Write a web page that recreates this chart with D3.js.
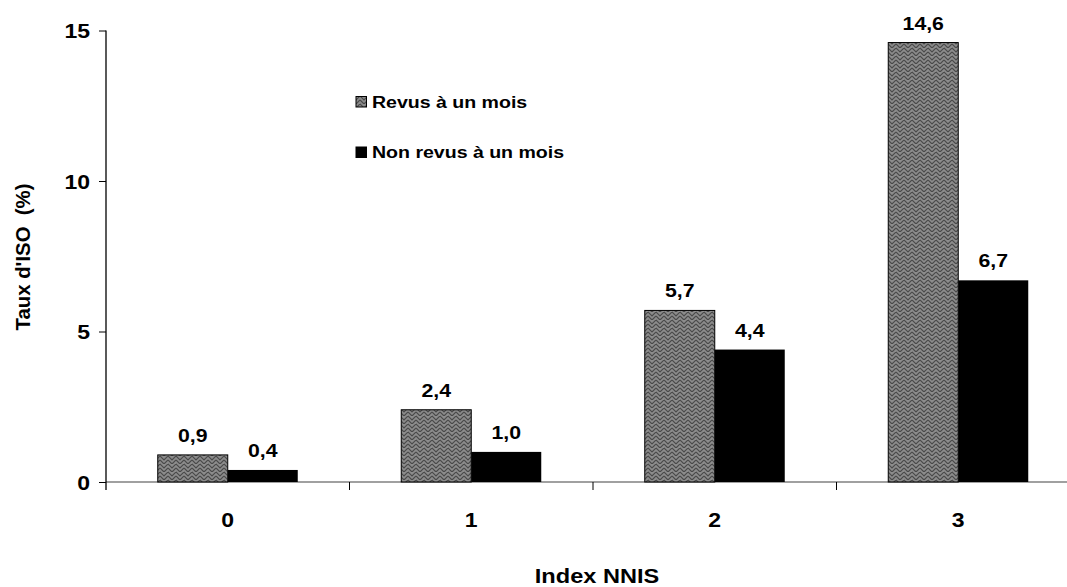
<!DOCTYPE html>
<html><head><meta charset="utf-8">
<script src="https://cdn.jsdelivr.net/npm/d3@7"></script>
<style>body{margin:0;background:#fff}svg{display:block}text{font-family:Arial,"Liberation Sans",sans-serif;font-weight:bold}</style>
</head><body><svg id="c" width="1067" height="587"></svg>
<script>
const categories = ["0","1","2","3"];
const seriesNames = ["Revus à un mois","Non revus à un mois"];
const revus = [0.9, 2.4, 5.7, 14.6];
const nonRevus = [0.4, 1.0, 4.4, 6.7];
const labelsRevus = ["0,9","2,4","5,7","14,6"];
const labelsNon = ["0,4","1,0","4,4","6,7"];
const yTicks = [0,5,10,15];

const SX = 1.15; // horizontal stretch of the reference text
const svg = d3.select("#c");
function txt(parent, x, y, s, size, anchor) {
  return parent.append("g").attr("transform",`translate(${x},${y}) scale(${SX},1)`)
    .append("text").attr("text-anchor",anchor||"middle").attr("font-size",size)
    .attr("fill","#000").attr("font-family","Arial, 'Liberation Sans', sans-serif").attr("font-weight","bold").text(s);
}
const defs = svg.append("defs");
const pat = defs.append("pattern").attr("id","weave").attr("patternUnits","userSpaceOnUse")
  .attr("width",8).attr("height",8);
pat.append("rect").attr("width",8).attr("height",8).attr("fill","#8c8c8c");
pat.append("path").attr("d","M0,0 L4,4 L8,0 M0,4 L4,8 L8,4 M-1,7 L1,9 M7,-1 L9,1")
  .attr("stroke","#4a4a4a").attr("stroke-width",1.2).attr("fill","none");

const x0 = 106, yBase = 482, yTop = 30.5;
const x = d3.scaleBand().domain(categories).range([x0, x0 + 4*243.5]).padding(0);
const y = d3.scaleLinear().domain([0,15]).range([yBase, yTop]);
const bw = 70;

// x axis
const xAxis = svg.append("g").attr("transform",`translate(0,${yBase})`);
xAxis.append("line").attr("x1",x0).attr("x2",1080).attr("stroke","#808080").attr("stroke-width",1.3);
categories.forEach((c,i)=>{
  const xx = x(c) + x.bandwidth();
  xAxis.append("line").attr("x1",xx).attr("x2",xx).attr("y1",0).attr("y2",8).attr("stroke","#000");
  txt(xAxis, x(c)+x.bandwidth()/2, 45, c, 20);
});

// y axis
const yAxis = svg.append("g").attr("transform",`translate(${x0},0)`)
  .call(d3.axisLeft(y).tickValues(yTicks).tickSize(7).tickFormat(""));
yAxis.select(".domain").attr("d",`M0,${yTop}V${yBase+8}`).attr("stroke","#000").attr("stroke-width",1.3);
yAxis.selectAll(".tick line").attr("stroke","#000");
yTicks.forEach(t=>{
  txt(yAxis, -16, y(t)+7.5, String(t), 20, "end");
});

// bars
const g = svg.append("g");
categories.forEach((c,i)=>{
  const cx = x(c) + x.bandwidth()/2;
  g.append("rect").attr("x",cx-bw).attr("y",y(revus[i])).attr("width",bw).attr("height",yBase-y(revus[i]))
    .attr("fill","url(#weave)").attr("stroke","#000").attr("stroke-width",1);
  g.append("rect").attr("x",cx).attr("y",y(nonRevus[i])).attr("width",bw).attr("height",yBase-y(nonRevus[i]))
    .attr("fill","#000");
  txt(g, cx-bw/2, y(revus[i])-13, labelsRevus[i], 18.5);
  txt(g, cx+bw/2, y(nonRevus[i])-13, labelsNon[i], 18.5);
});

// legend
const leg = svg.append("g");
[0,1].forEach(i=>{
  const ly = 96.5 + i*50.5;
  leg.append("rect").attr("x",356).attr("y",ly).attr("width",10.5).attr("height",10.5)
    .attr("fill", i===0 ? "url(#weave)" : "#000").attr("stroke","#000").attr("stroke-width",1);
  txt(leg, 372, ly+11, seriesNames[i], 17, "start");
});

// axis titles
txt(svg, 597, 583, "Index NNIS", 20.5);
svg.append("text").attr("transform","translate(30,257) rotate(-90) scale(1.1,1.08)").attr("text-anchor","middle")
  .attr("font-size",18.5).attr("xml:space","preserve").text("Taux d'ISO  (%)");
</script></body></html>
